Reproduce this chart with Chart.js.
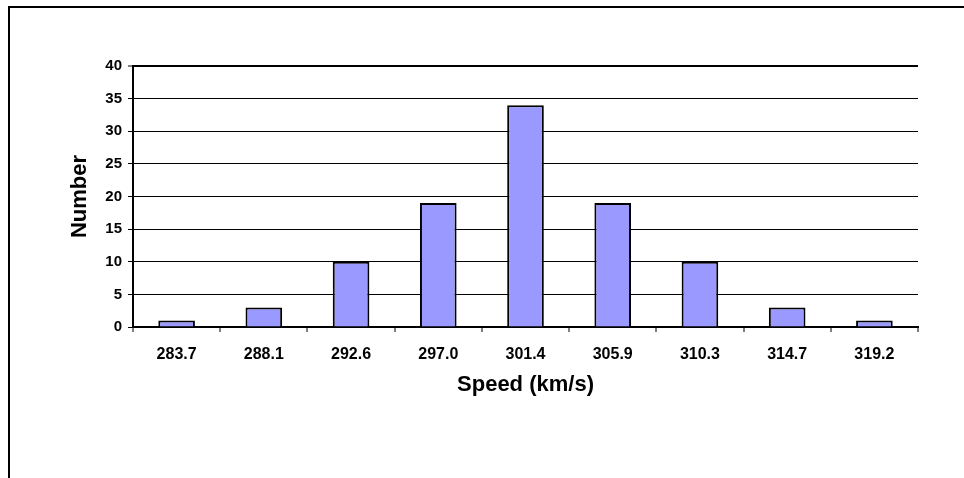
<!DOCTYPE html>
<html>
<head>
<meta charset="utf-8">
<script src="https://cdn.jsdelivr.net/npm/chart.js@4.4.1/dist/chart.umd.min.js"></script>
<style>
  html, body { margin: 0; padding: 0; background: #fff; }
  #frame { position: absolute; left: 8px; top: 6px; width: 1000px; height: 500px;
           border-left: 2px solid #000; border-top: 2px solid #000; }
  #wrap { position: absolute; left: 0; top: 0; width: 964px; height: 478px; }
</style>
</head>
<body>
<div id="frame"></div>
<div id="wrap"><canvas id="chart" width="964" height="478"></canvas></div>
<script>
// Histogramgegevens
const speeds = ['283.7', '288.1', '292.6', '297.0', '301.4', '305.9', '310.3', '314.7', '319.2'];
const counts = [1, 3, 10, 19, 34, 19, 10, 3, 1];
const yMax = 40;
const yStep = 5;

const font = 'Liberation Sans, Arial, sans-serif';

const ctx = document.getElementById('chart').getContext('2d');
new Chart(ctx, {
  type: 'bar',
  data: {
    labels: speeds,
    datasets: [{
      data: counts,
      backgroundColor: '#9999FF',
      borderColor: '#000',
      borderWidth: 2,
      barPercentage: 0.42,
      categoryPercentage: 1
    }]
  },
  options: {
    responsive: false,
    animation: false,
    layout: { padding: { left: 0, top: 66, right: 46, bottom: 0 } },
    plugins: { legend: { display: false }, tooltip: { enabled: false } },
    scales: {
      x: {
        afterFit: s => { s.height = 151; },
        grid: {
          offset: true,
          drawOnChartArea: true,
          color: c => c.index === speeds.length ? '#000' : 'rgba(0,0,0,0)',
          lineWidth: 2,
          tickColor: '#000',
          tickWidth: 1,
          tickLength: 5
        },
        border: { color: '#000', width: 2 },
        ticks: { color: '#000', padding: 13, font: { family: font, size: 16, weight: 'bold' } },
        title: {
          display: true, text: 'Speed (km/s)', color: '#000',
          padding: { top: 0, bottom: 80 },
          font: { family: font, size: 22, weight: 'bold' }
        }
      },
      y: {
        min: 0, max: yMax,
        afterFit: s => { s.width = 133; },
        grid: {
          color: '#000',
          lineWidth: c => c.tick && c.tick.value === yMax ? 2 : 1,
          tickColor: '#000',
          tickWidth: 1,
          tickLength: 5
        },
        border: { color: '#000', width: 2 },
        ticks: { stepSize: yStep, color: '#000', padding: 6, font: { family: font, size: 15, weight: 'bold' } },
        title: {
          display: true, text: 'Number', color: '#000',
          padding: { top: 67, bottom: 0 },
          font: { family: font, size: 22, weight: 'bold' }
        }
      }
    }
  }
});
</script>
</body>
</html>
